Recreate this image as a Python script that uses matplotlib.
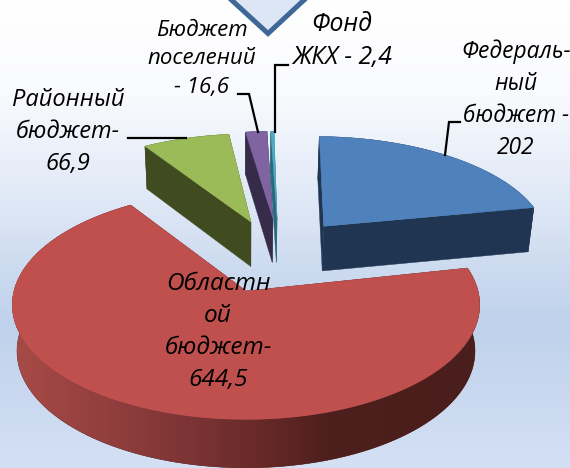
import numpy as np
import matplotlib
matplotlib.use("Agg")
import matplotlib.pyplot as plt
from matplotlib.colors import to_rgb
from matplotlib.patches import Polygon

# budget shares, clockwise from 12 o'clock
names = ["Федеральный", "Областной", "Районный", "Поселения", "ЖКХ"]
values = [202, 644.5, 66.9, 16.6, 2.4]

top_colors = ["#4F81BD", "#C0504D", "#9BBB59", "#8064A2", "#4BACC6"]
side_colors = ["#1F3552", "#4E1F1D", "#414B20", "#362C4A", "#2B6A7C"]
offset_u = [0.36, 0.0, 0.023, 0.125, 0.145]
offset_v = [0.615, 0.0, 0.659, 0.70, 0.70]
radius = [1.02, 1.0, 1.01, 1.0, 1.0]
turn_deg = [1.0, 0.0, 1.0, 0.0, 0.0]

label_texts = [
    (516, 100, "Федераль-\nный\nбюджет -\n202", 16.4),
    (218, 332, "Областн\nой\nбюджет-\n644,5", 17.6),
    (68, 132, "Районный\nбюджет-\n66,9", 17),
    (202, 59, "Бюджет\nпоселений\n- 16,6", 16),
    (342, 41, "Фонд\nЖКХ - 2,4", 17.8),
]
leaders = [
    ([445, 449, 460], [155, 122, 122]),
    ([128, 186], [138, 138]),
    ([238, 249, 258], [94, 94, 132]),
    ([288, 275, 275], [65, 65, 132]),
]

CX, CY, A, B, K, DEPTH, SHRINK = 246, 291, 232, 113, 0.12, 46, 0.98

# shading along the rim of the big slice
rim_x = [12, 150, 250, 330, 490]
rim_c = ["#A84B47", "#87393A", "#6B2B2A", "#4D1F1D", "#4A1E1C"]


def project(u, v, h=0.0):
    u, v = np.asarray(u, float), np.asarray(v, float)
    w = 1 + K * v
    s = 1 - (1 - SHRINK) * h
    return CX + A * u / w * s, CY - B * v / w + DEPTH * h / (1 + 0.05 * v)


def draw_slice(ax, i, t0, t1):
    ou, ov, r = offset_u[i], offset_v[i], radius[i]
    t = np.linspace(t0, t1, max(int((t1 - t0) * 90), 4)) + np.radians(turn_deg[i])
    u = ou + r * np.sin(t)
    v = ov + r * np.cos(t)

    # radial walls
    for e in (0, -1):
        xa, ya = project([ou, u[e]], [ov, v[e]])
        xb, yb = project([ou, u[e]], [ov, v[e]], 1)
        ax.add_patch(Polygon(np.c_[np.r_[xa, xb[::-1]], np.r_[ya, yb[::-1]]],
                             fc=side_colors[i], ec=side_colors[i], lw=0.3))

    # outer wall, the big slice gets the shaded rim
    xt, yt = project(u, v)
    xb, yb = project(u, v, 1)
    wall = Polygon(np.c_[np.r_[xt, xb[::-1]], np.r_[yt, yb[::-1]]],
                   fc=side_colors[i], ec=side_colors[i], lw=0.3)
    ax.add_patch(wall)
    if i == 1:
        px = np.arange(570)
        shade = np.array([np.interp(px, rim_x, [to_rgb(c)[k] for c in rim_c])
                          for k in range(3)]).T[None, :, :]
        im = ax.imshow(shade, extent=(0, 570, 468, 0), aspect="auto", zorder=1)
        im.set_clip_path(wall)

    # top face
    x0, y0 = project(ou, ov)
    ax.add_patch(Polygon(np.c_[np.r_[x0, xt], np.r_[y0, yt]],
                         fc=top_colors[i], ec=top_colors[i], lw=0.3, zorder=1))


fig = plt.figure(figsize=(5.7, 4.68), dpi=100)
ax = fig.add_axes([0, 0, 1, 1])
ax.set_xlim(0, 570)
ax.set_ylim(468, 0)
ax.set_autoscale_on(False)
ax.axis("off")

# page background
stops = [(0, "#FFFFFF"), (90, "#FAFBFE"), (200, "#DFE8F6"), (320, "#BFD1EB"), (468, "#D4E0F4")]
ys = np.arange(468)
grad = np.array([np.interp(ys, [s[0] for s in stops], [to_rgb(s[1])[c] for s in stops])
                 for c in range(3)]).T[:, None, :]
ax.imshow(grad, extent=(0, 570, 468, 0), aspect="auto", zorder=0)

# slices, back ones first
angles = np.cumsum([0] + values) / sum(values) * 2 * np.pi
for i in [2, 3, 4, 0, 1]:
    draw_slice(ax, i, angles[i], angles[i + 1])

# arrow poking in from the top
ax.add_patch(Polygon([(225, -6), (268, 33.5), (310.5, -6)], fc="#DCE6F4", ec="#3F6797", lw=3.6,
                     joinstyle="miter", zorder=5))

for xs, yl in leaders:
    ax.plot(xs, yl, color="black", lw=1.6, solid_joinstyle="miter", zorder=6)

for x, y, s, size in label_texts:
    ax.text(x, y, s, ha="center", va="center", family="Open Sans", style="italic",
            fontsize=size, linespacing=1.44, color="black", zorder=7)

fig.savefig("out.png", dpi=100)
